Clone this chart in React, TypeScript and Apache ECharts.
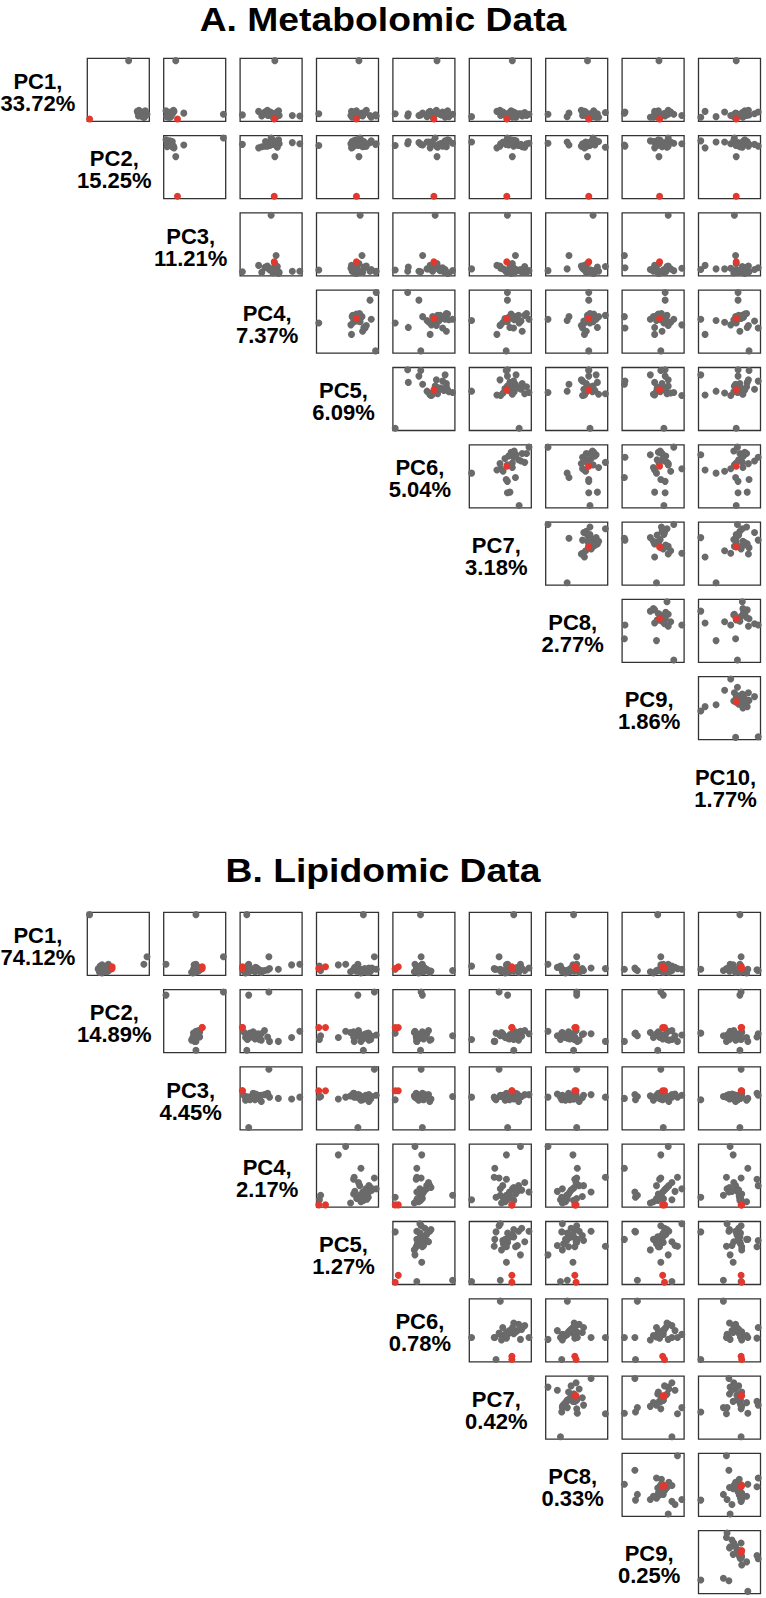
import React, { useEffect, useRef } from "react";
import * as echarts from "echarts";

// ---------- Labels ----------
const PC_NAMES = ["PC1", "PC2", "PC3", "PC4", "PC5", "PC6", "PC7", "PC8", "PC9", "PC10"];
const METAB_VAR = ["33.72%", "15.25%", "11.21%", "7.37%", "6.09%", "5.04%", "3.18%", "2.77%", "1.86%", "1.77%"];
const LIPID_VAR = ["74.12%", "14.89%", "4.45%", "2.17%", "1.27%", "0.78%", "0.42%", "0.33%", "0.25%"];
const TITLE_A = "A. Metabolomic Data";
const TITLE_B = "B. Lipidomic Data";

// ---------- A. Metabolomic scores (gray samples), one array per PC ----------
const M_PC1 = [100, 8, 10, 5, 6, 7, 9, 8, 4, 12, 3, 11, 6, 14, 5, 9, 13, 7, 10, 4, 8, 12, 6, 15, 3, 9];
const M_PC2 = [68, 100, 88, 90, 92, 89, 87, 91, 93, 86, 95, 84, 90, 97, 85, 94, 83, 91, 88, 96, 87, 93, 90, 86, 94, 89];
const M_PC3 = [17, 100, 31, 4, 4, 3, 6, 5, 8, 10, 7, 12, 9, 0, 2, 11, 14, 6, 3, 1, 5, 8, 2, 13, 4, 7];
const M_PC4 = [56, 50, 58, 96, 84, 4, 48, 54, 52, 40, 54, 60, 45, 62, 35, 41, 30, 55, 57, 53, 60, 49, 63, 44, 58, 51];
const M_PC5 = [68, 70, 73, 96, 86, 95, 3, 60, 62, 78, 88, 58, 55, 64, 74, 76, 56, 66, 63, 61, 67, 59, 69, 80, 57, 65];
const M_PC6 = [71, 68, 48, 24, 42, 45, 4, 96, 55, 80, 84, 72, 62, 88, 86, 25, 60, 78, 82, 90, 76, 58, 86, 70, 64, 74];
const M_PC7 = [70, 62, 75, 62, 62, 60, 81, 97, 4, 72, 76, 90, 51, 68, 86, 66, 45, 58, 64, 73, 80, 55, 93, 50, 70, 84];
const M_PC8 = [68, 77, 38, 70, 70, 70, 72, 4, 35, 60, 82, 97, 60, 78, 66, 84, 63, 74, 80, 76, 68, 65, 72, 58, 86, 62];
const M_PC9 = [59, 74, 3, 69, 69, 62, 67, 83, 55, 4, 45, 72, 96, 58, 64, 52, 52, 66, 70, 61, 56, 78, 63, 74, 50, 68];
const M_PC10 = [60, 57, 59, 63, 63, 81, 60, 62, 27, 96, 2, 70, 51, 74, 66, 78, 9, 68, 72, 56, 64, 41, 77, 80, 71, 90];
// red sample, PC1..PC10
const M_RED = [0, 0, 20, 55, 64, 66, 61, 70, 60, 60];

// ---------- B. Lipidomic scores (gray samples), one array per PC ----------
const L_PC1 = [100, 32, 20, 20, 12, 19, 12, 10, 14, 17, 13, 12, 10, 11, 10, 8, 12, 9, 7, 11, 14, 6, 10, 13, 8, 9, 15, 7];
const L_PC2 = [4, 96, 91, 34, 31, 24, 28, 27, 30, 21, 18, 18, 30, 25, 25, 22, 30, 28, 20, 33, 26, 24, 35, 29, 32, 21, 27, 23];
const L_PC3 = [52, 96, 4, 52, 48, 49, 55, 53, 56, 52, 52, 50, 55, 58, 50, 48, 55, 52, 45, 58, 53, 47, 56, 51, 54, 49, 57, 50];
const L_PC4 = [12, 47, 15, 96, 17, 83, 30, 20, 25, 13, 48, 62, 35, 45, 20, 25, 30, 15, 35, 22, 28, 10, 40, 18, 8, 32, 26, 14];
const L_PC5 = [76, 94, 67, 47, 84, 35, 97, 6, 85, 4, 61, 72, 70, 60, 70, 75, 80, 65, 85, 60, 90, 72, 68, 78, 55, 88, 62, 82];
const L_PC6 = [45, 46, 48, 36, 4, 47, 44, 97, 39, 39, 39, 39, 55, 38, 45, 50, 55, 40, 60, 48, 52, 42, 58, 47, 35, 62, 50, 44];
const L_PC7 = [72, 48, 62, 83, 43, 60, 50, 50, 97, 3, 40, 41, 54, 60, 60, 65, 70, 55, 80, 75, 85, 58, 90, 66, 52, 72, 78, 62];
const L_PC8 = [46, 51, 51, 5, 27, 45, 28, 36, 74, 25, 97, 52, 62, 48, 35, 40, 45, 30, 55, 38, 42, 33, 50, 60, 28, 47, 20, 36];
const L_PC9 = [57, 62, 66, 74, 21, 62, 96, 24, 20, 80, 89, 3, 55, 60, 60, 65, 70, 55, 75, 58, 68, 50, 80, 63, 45, 72, 85, 66];
const L_PC10 = [67, 69, 67, 51, 3, 56, 46, 40, 49, 69, 45, 80, 97, 95, 66, 64, 62, 68, 60, 70, 65, 78, 57, 66, 70, 50, 54, 68];
// red samples, PC1..PC10
const L_RED1 = [16, 40, 62, 5, 14, 9, 69, 48, 65, 69];
const L_RED2 = [13, 40, 62, 5, 3, 4, 69, 50, 68, 70];

const METAB_GRAY = [M_PC1, M_PC2, M_PC3, M_PC4, M_PC5, M_PC6, M_PC7, M_PC8, M_PC9, M_PC10];
const METAB_RED = [M_RED];
const LIPID_GRAY = [L_PC1, L_PC2, L_PC3, L_PC4, L_PC5, L_PC6, L_PC7, L_PC8, L_PC9, L_PC10];
const LIPID_RED = [L_RED1, L_RED2];

// ---------- Layout ----------
const COL_LEFT0 = 87.3;
const COL_PITCH = 76.4;
const PANEL_W = 62;
const PANEL_H = 63;
const ROW_PITCH = 77.3;
const A_TOP = 58.3;
const B_TOP = 912.3;
const GRAY = "#6a6a6a";
const RED = "#e2382d";
const FONT = '"Liberation Sans", Arial, Helvetica, sans-serif';

function padRange(vals: number[]): [number, number] {
  const mn = Math.min(...vals);
  const mx = Math.max(...vals);
  const p = (mx - mn) * 0.04;
  return [mn - p, mx + p];
}

function addMatrix(
  opt: any,
  gray: number[][],
  reds: number[][],
  top0: number,
  varLabels: string[]
) {
  const n = gray.length;
  const ranges = gray.map((g, k) => padRange(g.concat(reds.map((r) => r[k]))));
  for (let r = 0; r < n - 1; r++) {
    for (let c = r + 1; c < n; c++) {
      const j = c - 1;
      const gi = opt.grid.length;
      opt.grid.push({
        left: COL_LEFT0 + COL_PITCH * j,
        top: top0 + ROW_PITCH * r,
        width: PANEL_W,
        height: PANEL_H,
        show: true,
        borderColor: "#333",
        borderWidth: 1.3,
        backgroundColor: "transparent",
      });
      opt.xAxis.push({ type: "value", gridIndex: gi, min: ranges[c][0], max: ranges[c][1], show: false });
      opt.yAxis.push({ type: "value", gridIndex: gi, min: ranges[r][0], max: ranges[r][1], show: false });
      opt.series.push({
        type: "scatter",
        xAxisIndex: gi,
        yAxisIndex: gi,
        symbolSize: 7,
        itemStyle: { color: GRAY, opacity: 1 },
        data: gray[c].map((x, k) => [x, gray[r][k]]),
        silent: true,
      });
      opt.series.push({
        type: "scatter",
        xAxisIndex: gi,
        yAxisIndex: gi,
        symbolSize: 7,
        itemStyle: { color: RED, opacity: 1 },
        data: reds.map((s) => [s[c], s[r]]),
        silent: true,
      });
    }
  }
  varLabels.forEach((v, r) => {
    opt.graphic.push({
      type: "text",
      x: COL_LEFT0 + COL_PITCH * (r - 1) + PANEL_W / 2 - 4,
      y: top0 + ROW_PITCH * r + PANEL_H / 2 + 2.6,
      silent: true,
      style: {
        text: PC_NAMES[r] + ",\n" + v,
        fontFamily: FONT,
        fontWeight: "bold",
        fontSize: 22,
        lineHeight: 22,
        fill: "#000",
        textAlign: "center",
        textVerticalAlign: "middle",
      },
    });
  });
}

export default function App() {
  const ref = useRef<HTMLDivElement>(null);
  useEffect(() => {
    if (!ref.current) return;
    const chart = echarts.init(ref.current, undefined, { renderer: "svg" });
    const opt: any = {
      animation: false,
      backgroundColor: "#fff",
      grid: [],
      xAxis: [],
      yAxis: [],
      series: [],
      graphic: [
        {
          type: "text",
          x: 383,
          y: 19,
          scaleX: 1.13,
          silent: true,
          style: {
            text: TITLE_A,
            fontFamily: FONT,
            fontWeight: "bold",
            fontSize: 33,
            fill: "#000",
            textAlign: "center",
            textVerticalAlign: "middle",
          },
        },
        {
          type: "text",
          x: 383,
          y: 870,
          scaleX: 1.13,
          silent: true,
          style: {
            text: TITLE_B,
            fontFamily: FONT,
            fontWeight: "bold",
            fontSize: 33,
            fill: "#000",
            textAlign: "center",
            textVerticalAlign: "middle",
          },
        },
      ],
    };
    addMatrix(opt, METAB_GRAY, METAB_RED, A_TOP, METAB_VAR);
    addMatrix(opt, LIPID_GRAY, LIPID_RED, B_TOP, LIPID_VAR);
    chart.setOption(opt);
    return () => chart.dispose();
  }, []);
  return (
    <div
      ref={ref}
      style={{ position: "absolute", left: 0, top: 0, width: 766, height: 1598, background: "#fff" }}
    />
  );
}
